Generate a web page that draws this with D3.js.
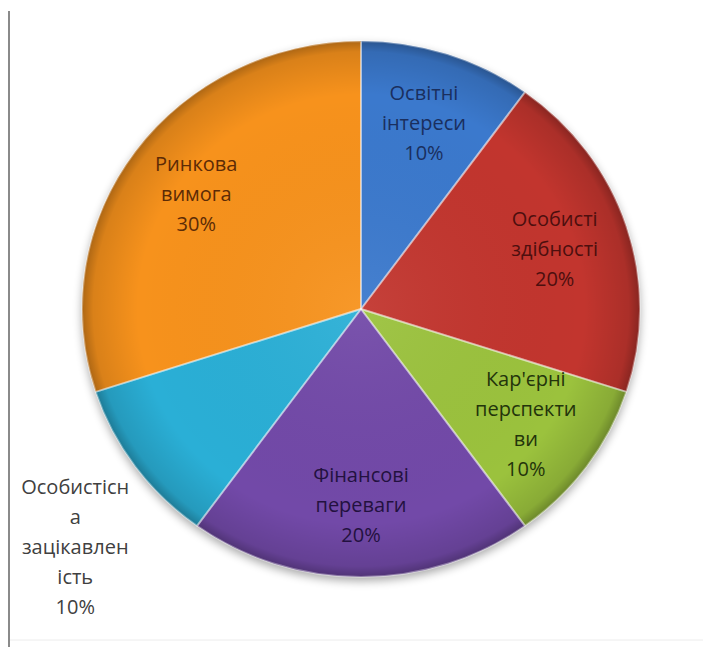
<!DOCTYPE html>
<html>
<head>
<meta charset="utf-8">
<script src="https://cdn.jsdelivr.net/npm/d3@7"></script>
<style>
  body { margin: 0; background: #fff; }
  svg { display: block; }
</style>
</head>
<body>
<div id="chart"></div>
<script>
const categories = ["Освітні інтереси", "Особисті здібності", "Кар'єрні перспективи",
  "Фінансові переваги", "Особистісна зацікавленість", "Ринкова вимога"];
const values = [10, 20, 10, 20, 10, 30];
// label lines as Excel wrapped them
const labelLines = [["Освітні", "інтереси"], ["Особисті", "здібності"], ["Кар'єрні", "перспекти", "ви"],
  ["Фінансові", "переваги"], ["Особистісн", "а", "зацікавлен", "ість"], ["Ринкова", "вимога"]];
const outsideLabel = [false, false, false, false, true, false];
const sliceColors = ["#3b79cd", "#c2362f", "#9bc23e", "#7249a8", "#29afd6", "#f7921f"];
const textColors = ["#1a2f5e", "#4d0f0e", "#23340b", "#23113f", "#404040", "#5c2b06"];

const width = 703, height = 647;
const cx = 361, cy = 309, rx = 279, ry = 268;
const fontSize = 20, lineH = 30;

const svg = d3.select("#chart")
  .append("svg")
  .attr("width", width)
  .attr("height", height);

const defs = svg.append("defs");

const shadow = defs.append("filter")
  .attr("id", "shadow")
  .attr("x", "-20%").attr("y", "-20%")
  .attr("width", "140%").attr("height", "140%");
shadow.append("feGaussianBlur").attr("in", "SourceAlpha").attr("stdDeviation", 5);
shadow.append("feOffset").attr("dx", 0).attr("dy", 4).attr("result", "b");
shadow.append("feComponentTransfer").append("feFuncA").attr("type", "linear").attr("slope", 0.35);
const merge = shadow.append("feMerge");
merge.append("feMergeNode");
merge.append("feMergeNode").attr("in", "SourceGraphic");

const rim = defs.append("radialGradient")
  .attr("id", "rim")
  .attr("gradientUnits", "userSpaceOnUse")
  .attr("cx", 0).attr("cy", 0).attr("r", rx);
rim.append("stop").attr("offset", "0%").attr("stop-color", "#fff").attr("stop-opacity", 0.06);
rim.append("stop").attr("offset", "80%").attr("stop-color", "#000").attr("stop-opacity", 0);
rim.append("stop").attr("offset", "96%").attr("stop-color", "#000").attr("stop-opacity", 0.12);
rim.append("stop").attr("offset", "100%").attr("stop-color", "#000").attr("stop-opacity", 0.3);

// chart area frame
svg.append("line")
  .attr("x1", 9).attr("x2", 9).attr("y1", 11).attr("y2", height)
  .attr("stroke", "#8a8a8a").attr("stroke-width", 2);
svg.append("line")
  .attr("x1", 10).attr("x2", width).attr("y1", 640).attr("y2", 640)
  .attr("stroke", "#ececec").attr("stroke-width", 1);

const total = d3.sum(values);
const pie = d3.pie().sort(null).value(d => d);
const arcs = pie(values);

const arc = d3.arc().innerRadius(0).outerRadius(rx);
const labelArc = d3.arc().innerRadius(rx * 0.73).outerRadius(rx * 0.73);

const pieG = svg.append("g")
  .attr("transform", `translate(${cx},${cy}) scale(1,${ry / rx})`);

const sliceG = pieG.append("g").attr("filter", "url(#shadow)");
sliceG.selectAll("path")
  .data(arcs)
  .join("path")
    .attr("d", arc)
    .attr("fill", (d, i) => sliceColors[i]);

pieG.append("g")
  .selectAll("path")
  .data(arcs)
  .join("path")
    .attr("d", arc)
    .attr("fill", "url(#rim)")
    .attr("stroke", "rgba(255,255,255,0.35)")
    .attr("stroke-width", 2)
    .attr("stroke-linejoin", "round");

const labelG = svg.append("g")
  .attr("transform", `translate(${cx},${cy})`)
  .style("font-family", "'Open Sans', sans-serif")
  .style("font-size", fontSize + "px");

const labels = labelG.selectAll("text")
  .data(arcs)
  .join("text")
    .attr("text-anchor", "middle")
    .attr("fill", (d, i) => textColors[i]);

labels.each(function(d, i) {
  const lines = labelLines[i].concat([Math.round(d.value / total * 100) + "%"]);
  const t = d3.select(this);
  const off = -(lines.length - 1) * lineH / 2;
  lines.forEach((s, k) => {
    t.append("tspan")
      .attr("x", 0)
      .attr("y", off + k * lineH)
      .attr("dy", "0.35em")
      .text(s);
  });
  if (!outsideLabel[i]) {
    const [x, y] = labelArc.centroid(d);
    t.attr("transform", `translate(${x},${y * ry / rx})`);
  } else {
    // anchor the box corner next to the slice edge, like Excel's best fit
    const a = (d.startAngle + d.endAngle) / 2;
    const ex = rx * Math.sin(a), ey = -ry * Math.cos(a);
    const bb = this.getBBox();
    const gap = 6;
    const tx = ex < 0 ? ex - gap - (bb.x + bb.width) : ex + gap - bb.x;
    const ty = ey > 0 ? ey + gap - bb.y : ey - gap - (bb.y + bb.height);
    t.attr("transform", `translate(${tx},${ty})`);
  }
});
</script>
</body>
</html>
